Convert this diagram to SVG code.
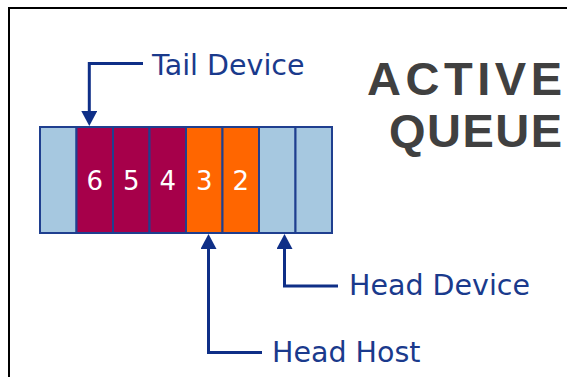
<svg xmlns="http://www.w3.org/2000/svg" width="567" height="377" viewBox="0 0 567 377">
<defs>
<style>
.cell{stroke:#1F3F8F;stroke-width:2}
.empty{fill:#A6C8E0}
.dev{fill:#A6004A}
.host{fill:#FF6600}
.num{font-family:"DejaVu Sans",Verdana,sans-serif;font-size:26px;fill:#FFFFFF;text-anchor:middle}
.lbl{font-family:"DejaVu Sans",Verdana,sans-serif;font-size:28.5px;fill:#1A3A8C}
.title{font-family:"Liberation Sans",Arial,sans-serif;font-weight:bold;font-size:47px;fill:#404040}
.conn{fill:none;stroke:#0F2F87;stroke-width:3;marker-end:url(#arr)}
</style>
<marker id="arr" viewBox="0 0 15 16" refX="9" refY="8" markerWidth="15" markerHeight="16" markerUnits="userSpaceOnUse" orient="auto">
<path d="M0,0 L15,8 L0,16 z" fill="#0F2F87"/>
</marker>
</defs>
<rect x="0" y="0" width="567" height="377" fill="#FFFFFF"/>
<rect x="9" y="8" width="600" height="400" fill="none" stroke="#000000" stroke-width="2"/>
<g id="title">
<text class="title" x="367" y="95" textLength="195" lengthAdjust="spacing">ACTIVE</text>
<text class="title" x="389" y="147" textLength="173" lengthAdjust="spacing">QUEUE</text>
</g>
<g id="queue">
<g id="cell1"><rect class="cell empty" x="40" y="127" width="36.5" height="106"/></g>
<g id="cell6"><rect class="cell dev" x="76.5" y="127" width="36.5" height="106"/><text class="num" x="94.75" y="190">6</text></g>
<g id="cell5"><rect class="cell dev" x="113" y="127" width="36.5" height="106"/><text class="num" x="131.25" y="190">5</text></g>
<g id="cell4"><rect class="cell dev" x="149.5" y="127" width="36.5" height="106"/><text class="num" x="167.75" y="190">4</text></g>
<g id="cell3"><rect class="cell host" x="186" y="127" width="36.5" height="106"/><text class="num" x="204.25" y="190">3</text></g>
<g id="cell2"><rect class="cell host" x="222.5" y="127" width="36.5" height="106"/><text class="num" x="240.75" y="190">2</text></g>
<g id="cell7"><rect class="cell empty" x="259" y="127" width="36.5" height="106"/></g>
<g id="cell8"><rect class="cell empty" x="295.5" y="127" width="36.5" height="106"/></g>
</g>
<g id="tail-device"><text class="lbl" x="152" y="75">Tail Device</text></g>
<g id="head-host"><text class="lbl" x="272" y="362">Head Host</text></g>
<g id="head-device"><text class="lbl" x="349" y="295">Head Device</text></g>
<g id="connectors">
<path class="conn" d="M143,63.5 H89.3 V120"/>
<path class="conn" d="M262,352.5 H208.5 V240"/>
<path class="conn" d="M338,286 H284.5 V240"/>
</g>
</svg>
